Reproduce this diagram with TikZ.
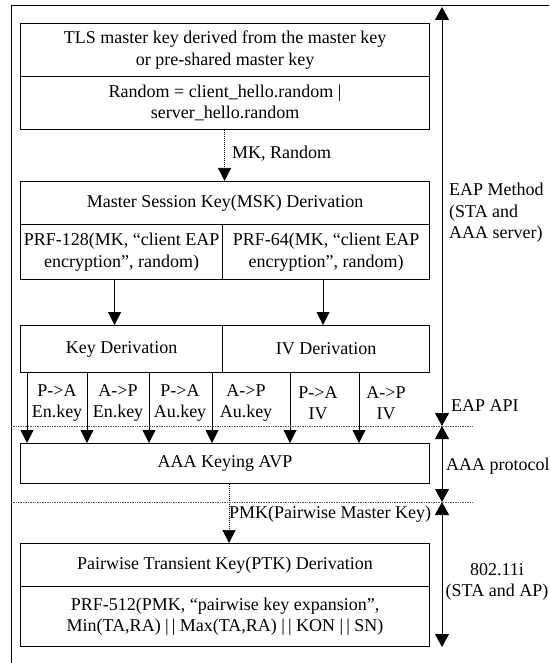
\documentclass[tikz,border=0pt]{standalone}
\usepackage{fontspec}
\setmainfont{Liberation Serif}
\usetikzlibrary{arrows.meta}
\begin{document}
\begin{tikzpicture}[x=1pt,y=-1pt,
  font=\fontsize{18}{21.5}\selectfont,
  box/.style={draw, line width=1.1pt, inner sep=0pt, align=center, anchor=north west},
  arr/.style={-{Triangle[length=13pt,width=13pt]}, line width=1pt},
  dual/.style={{Triangle[length=13pt,width=14pt]}-{Triangle[length=13pt,width=14pt]}, line width=1pt},
  dot/.style={densely dotted, line width=0.7pt, gray!70!black},
  lbl/.style={inner sep=0pt}]
\useasboundingbox (0,0) rectangle (549,663);

% outer frame (top and left edges)
\draw[line width=1pt] (11,663) -- (11,6) -- (549,6);

% EAP method part
\node[box, minimum width=409, minimum height=53] (tls) at (20,23)
  {TLS master key derived from the master key\\or pre-shared master key};
\node[box, minimum width=409, minimum height=53] (rnd) at (20,76)
  {Random = client\_hello.random |\\server\_hello.random};
\node[box, minimum width=409, minimum height=43] (msk) at (20,181)
  {Master Session Key(MSK) Derivation};
\node[box, minimum width=202, minimum height=55] (prfa) at (20,224)
  {PRF-128(MK, “client EAP\\encryption”, random)};
\node[box, minimum width=207, minimum height=55] (prfb) at (222,224)
  {PRF-64(MK, “client EAP\\encryption”, random)};
\node[box, minimum width=202, minimum height=47] (kd) at (20,325) {Key Derivation};
\node[box, minimum width=207, minimum height=47] (ivd) at (222,325) {IV Derivation};

% AAA and 802.11i part
\node[box, minimum width=409, minimum height=40] (avp) at (20,443) {AAA Keying AVP};
\node[box, minimum width=409, minimum height=43] (ptk) at (20,543)
  {Pairwise Transient Key(PTK) Derivation};
\node[box, minimum width=409, minimum height=60] (prfc) at (20,586)
  {PRF-512(PMK, “pairwise key expansion”,\\Min(TA,RA) |\kern3pt| Max(TA,RA) |\kern3pt| KON |\kern3pt| SN)};

% key flow
\draw[arr, dot, black] ([xshift=-0.5pt]rnd.south) -- ([xshift=-0.5pt]msk.north);
\node[lbl, anchor=west] (mklbl) at (232,154) {MK, Random};
\draw[arr] ([xshift=-7pt]prfa.south) -- ([xshift=-7pt]kd.north);
\draw[arr] ([xshift=-3pt]prfb.south) -- ([xshift=-3pt]ivd.north);

\foreach \dx in {7,67,129,192} {
  \draw[arr] ([xshift=\dx]kd.south west) -- ([xshift=\dx]kd.south west |- avp.north);
}
\foreach \dx in {68,137} {
  \draw[arr] ([xshift=\dx]ivd.south west) -- ([xshift=\dx]ivd.south west |- avp.north);
}
\node[lbl, align=center] (k1) at (57,403) {P->A\\En.key};
\node[lbl, align=center] (k2) at (118,403) {A->P\\En.key};
\node[lbl, align=center] (k3) at (180,403) {P->A\\Au.key};
\node[lbl, align=center] (k4) at (246,403) {A->P\\Au.key};
\node[lbl, align=center] (k5) at (318,403) {P->A\\IV};
\node[lbl, align=center] (k6) at (386,403) {A->P\\IV};

\draw[arr, dot, black] ([xshift=4pt]avp.south) -- ([xshift=4pt]ptk.north);
\node[lbl, anchor=west] (pmklbl) at (229,514) {PMK(Pairwise Master Key)};

% layer boundaries
\coordinate (ltop) at (442,7);
\coordinate (lapi) at (442,426);
\coordinate (lprot) at (442,502);
\coordinate (lbot) at (442,647);
\draw[dot] (11,426) -- (473,426);
\draw[dot] (11,502) -- (473,502);
\draw[dual] (ltop) -- (lapi);
\draw[dual] (lapi) -- (lprot);
\draw[dual] (lprot) -- (lbot);

\node[lbl, anchor=west, align=left] (eapm) at (449,213)
  {EAP Method\\(STA and\\AAA server)};
\node[lbl, anchor=west] (eapapi) at (451,406) {EAP API};
\node[lbl, anchor=west] (aaap) at (446,466) {AAA protocol};
\node[lbl, align=center] (dot11) at (497,582) {802.11i\\(STA and AP)};
\end{tikzpicture}
\end{document}
